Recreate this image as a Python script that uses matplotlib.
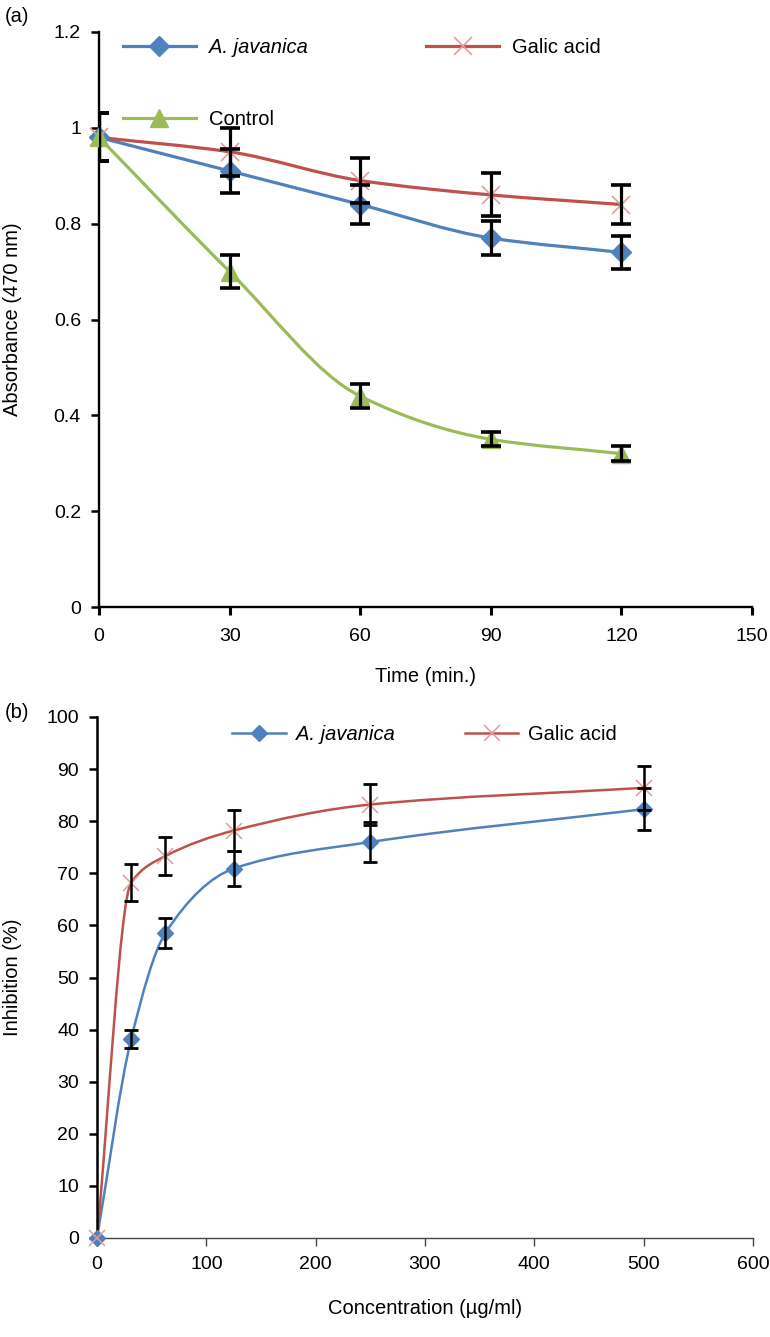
import numpy as np
import matplotlib.pyplot as plt
from matplotlib.path import Path
from matplotlib.patches import PathPatch
from matplotlib.lines import Line2D

plt.rcParams['font.family'] = ['Liberation Sans', 'DejaVu Sans']

# %% data, panel (a)
time_min = [0, 30, 60, 90, 120]
jav_abs = [0.98, 0.91, 0.84, 0.77, 0.74]
jav_abs_err = [0.05, 0.045, 0.04, 0.035, 0.035]
gal_abs = [0.98, 0.95, 0.89, 0.86, 0.84]
gal_abs_err = [0.05, 0.05, 0.046, 0.045, 0.04]
ctl_abs = [0.98, 0.70, 0.44, 0.35, 0.32]
ctl_abs_err = [0.05, 0.035, 0.025, 0.015, 0.015]

# %% data, panel (b)
conc = [0, 31.25, 62.5, 125, 250, 500]
jav_inh = [0, 38.2, 58.5, 70.9, 76.0, 82.3]
jav_inh_err = [0, 1.8, 2.9, 3.4, 3.9, 4.0]
gal_inh = [0, 68.2, 73.3, 78.2, 83.2, 86.4]
gal_inh_err = [0, 3.5, 3.7, 3.9, 4.0, 4.2]

blue = '#4F81BD'
red = '#C0504D'
red_light = '#E59B98'
green = '#9BBB59'

FS = 14.5   # labels / legend
TS = 14     # tick labels


# smoothed line through the points (monotone cubic drawn as bezier path)
def smooth(ax, x, y, color, lw):
    x = np.asarray(x, float)
    y = np.asarray(y, float)
    n = len(x)
    h = np.diff(x)
    d = np.diff(y) / h
    m = np.zeros(n)
    m[0] = d[0]
    m[-1] = d[-1]
    for k in range(1, n - 1):
        if d[k - 1] * d[k] > 0:
            w1 = 2 * h[k] + h[k - 1]
            w2 = h[k] + 2 * h[k - 1]
            m[k] = (w1 + w2) / (w1 / d[k - 1] + w2 / d[k])
    verts = [(x[0], y[0])]
    codes = [Path.MOVETO]
    for i in range(n - 1):
        c1 = (x[i] + h[i] / 3, y[i] + m[i] * h[i] / 3)
        c2 = (x[i + 1] - h[i] / 3, y[i + 1] - m[i + 1] * h[i] / 3)
        verts += [c1, c2, (x[i + 1], y[i + 1])]
        codes += [Path.CURVE4] * 3
    ax.add_patch(PathPatch(Path(verts, codes), fill=False, edgecolor=color,
                           lw=lw, zorder=2, capstyle='round'))


fig = plt.figure(figsize=(7.7, 13.37), dpi=100)

# %% panel (a)
ax = fig.add_axes([99 / 770, 1 - 607 / 1337, 653 / 770, 575 / 1337])
smooth(ax, time_min, jav_abs, blue, 2.3)
smooth(ax, time_min, gal_abs, red, 2.3)
smooth(ax, time_min, ctl_abs, green, 2.3)
ax.plot(time_min, jav_abs, 'D', color=blue, ms=10.5, zorder=3, clip_on=False)
ax.plot(time_min, gal_abs, 'x', color=red_light, ms=13, mew=1.2, zorder=3, clip_on=False)
ax.plot(time_min, ctl_abs, '^', color=green, ms=13, zorder=3, clip_on=False)
for yv, ev in [(jav_abs, jav_abs_err), (gal_abs, gal_abs_err), (ctl_abs, ctl_abs_err)]:
    ax.errorbar(time_min, yv, yerr=ev, fmt='none', ecolor='black', elinewidth=2.3,
                capsize=7, capthick=2.6, zorder=4)

ax.set_xlim(0, 150)
ax.set_ylim(0, 1.2)
ax.set_xticks([0, 30, 60, 90, 120, 150])
ax.set_yticks([0, 0.2, 0.4, 0.6, 0.8, 1.0, 1.2])
ax.set_yticklabels(['0', '0.2', '0.4', '0.6', '0.8', '1', '1.2'])
for s in ['top', 'right']:
    ax.spines[s].set_visible(False)
for s in ['left', 'bottom']:
    ax.spines[s].set_linewidth(1.7)
ax.tick_params(axis='y', direction='out', length=6, width=1.8, labelsize=TS, pad=7)
ax.tick_params(axis='x', direction='out', length=6, width=2.2, labelsize=TS, pad=9)
ax.set_xlabel('Time (min.)', fontsize=FS)
ax.xaxis.set_label_coords(0.5, -0.104)
ax.set_ylabel('Absorbance (470 nm)', fontsize=FS)
ax.yaxis.set_label_coords(-0.118, 0.5)

h_a = [Line2D([], [], color=blue, lw=2.3, marker='D', ms=10.5),
       Line2D([], [], color=green, lw=2.3, marker='^', ms=13),
       Line2D([], [], color=red, lw=2.3, marker='x', ms=13, mew=1.2, mec=red_light)]
leg = ax.legend(h_a, ['A. javanica', 'Control', 'Galic acid'], ncol=2,
                loc='upper left', bbox_to_anchor=(0.037, 0.99), frameon=False,
                fontsize=FS, handlelength=3.6, handletextpad=0.65,
                columnspacing=5.9, labelspacing=2.65, borderpad=0, borderaxespad=0)
leg.get_texts()[0].set_fontstyle('italic')

fig.text(5 / 770, 1 - 16 / 1337, '(a)', fontsize=FS, va='center')

# %% panel (b)
bx = fig.add_axes([97 / 770, 1 - 1238 / 1337, 656 / 770, 521 / 1337])
smooth(bx, conc, jav_inh, blue, 1.8)
smooth(bx, conc, gal_inh, red, 1.8)
bx.plot(conc, jav_inh, 'D', color=blue, ms=8.5, zorder=3, clip_on=False)
bx.plot(conc, gal_inh, 'x', color=red_light, ms=12, mew=1.1, zorder=3, clip_on=False)
for yv, ev in [(jav_inh, jav_inh_err), (gal_inh, gal_inh_err)]:
    x_e = [c for c, e in zip(conc, ev) if e > 0]
    y_e = [v for v, e in zip(yv, ev) if e > 0]
    e_e = [e for e in ev if e > 0]
    bx.errorbar(x_e, y_e, yerr=e_e, fmt='none', ecolor='black', elinewidth=1.8,
                capsize=5, capthick=2, zorder=4)

bx.set_xlim(0, 600)
bx.set_ylim(0, 100)
bx.set_xticks(np.arange(0, 601, 100))
bx.set_yticks(np.arange(0, 101, 10))
for s in ['top', 'right']:
    bx.spines[s].set_visible(False)
bx.spines['left'].set_linewidth(1.8)
bx.spines['bottom'].set_linewidth(1.0)
bx.spines['bottom'].set_color('#444444')
bx.tick_params(axis='y', direction='out', length=6, width=1.8, labelsize=TS, pad=7)
bx.tick_params(axis='x', direction='out', length=6, width=1.0, color='#444444',
               labelsize=TS, pad=7)
bx.set_xlabel('Concentration (\u00b5g/ml)', fontsize=FS)
bx.xaxis.set_label_coords(0.5, -0.117)
bx.set_ylabel('Inhibition (%)', fontsize=FS)
bx.yaxis.set_label_coords(-0.114, 0.5)

h_b = [Line2D([], [], color=blue, lw=1.8, marker='D', ms=8.5),
       Line2D([], [], color=red, lw=1.8, marker='x', ms=12, mew=1.1, mec=red_light)]
leg2 = bx.legend(h_b, ['A. javanica', 'Galic acid'], ncol=2, loc='upper left',
                 bbox_to_anchor=(0.206, 0.985), frameon=False, fontsize=FS,
                 handlelength=2.65, handletextpad=0.5, columnspacing=3.5,
                 borderpad=0, borderaxespad=0)
leg2.get_texts()[0].set_fontstyle('italic')

fig.text(5 / 770, 1 - 713 / 1337, '(b)', fontsize=FS, va='center')

fig.savefig('out.png', dpi=100)
